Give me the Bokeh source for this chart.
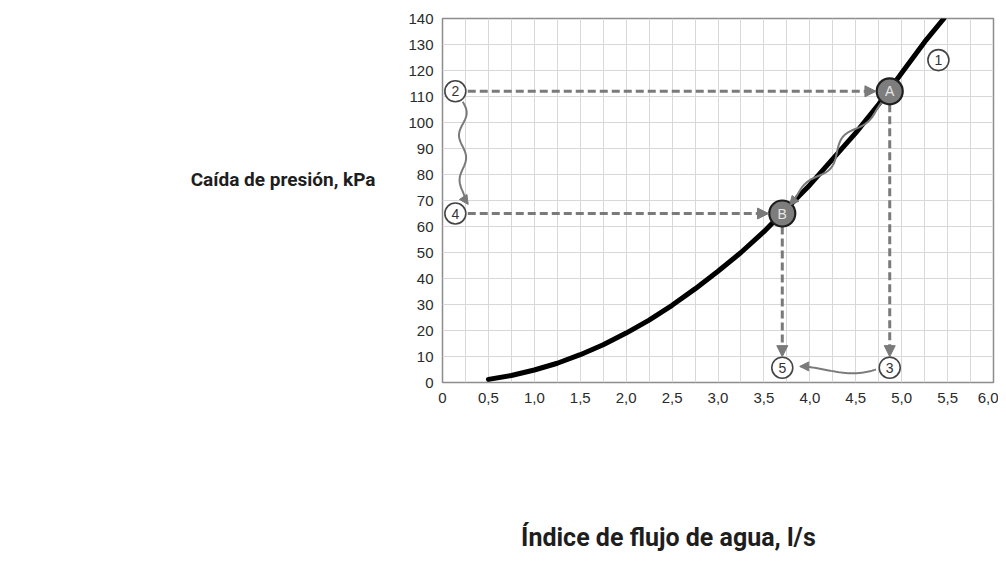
import numpy as np
from bokeh.plotting import figure
from bokeh.models import (Range1d, FixedTicker, LinearAxis, Arrow, NormalHead,
                          ColumnDataSource)
from bokeh.core.properties import value
from bokeh.embed import file_html
from bokeh.resources import INLINE

# ---- data ----
flow = [0.5, 0.75, 1.0, 1.25, 1.5, 1.75, 2.0, 2.25, 2.5, 2.75, 3.0, 3.25, 3.5,
        3.75, 4.0, 4.25, 4.5, 4.75, 5.0, 5.25, 5.46]
pressure = [1.2, 2.7, 4.8, 7.4, 10.7, 14.5, 19, 24, 29.7, 36, 42.8, 50, 58,
            67, 76, 86, 96, 107, 119, 131, 140]

x_ticks = [0, 0.5, 1.0, 1.5, 2.0, 2.5, 3.0, 3.5, 4.0, 4.5, 5.0, 5.5, 6.0]
x_tick_labels = ["0", "0,5", "1,0", "1,5", "2,0", "2,5", "3,0", "3,5", "4,0",
                 "4,5", "5,0", "5,5", "6,0"]
y_ticks = list(range(0, 141, 10))

# operating points
pt_names = ["A", "B"]
pt_x = [4.87, 3.70]
pt_y = [112, 65]

# numbered callouts
num_names = ["1", "2", "3", "4", "5"]
num_x = [5.40, 0.14, 4.87, 0.14, 3.70]
num_y = [124, 112, 5.7, 65, 5.7]

title_y = "Caída de presión, kPa"
title_x = "Índice de flujo de agua, l/s"
title_y_at = 77.9   # data y where the y title sits
title_x_at = 2.46   # data x where the x title is centred

GREY = "#7a7a7a"
TITLE_FONT = "Roboto"

p = figure(width=998, height=554, x_range=Range1d(0, 6), y_range=Range1d(0, 140),
           output_backend="svg", toolbar_location=None,
           min_border_left=442, min_border_right=5, min_border_top=18,
           min_border_bottom=171)
p.outline_line_color = "#8c8c8c"
p.outline_line_width = 1.5
p.background_fill_color = "white"

p.xaxis.ticker = FixedTicker(ticks=x_ticks)
p.xaxis.major_label_overrides = {t: l for t, l in zip(x_ticks, x_tick_labels)}
p.yaxis.ticker = FixedTicker(ticks=y_ticks)
for ax in (p.xaxis, p.yaxis):
    ax.axis_line_color = None
    ax.major_tick_line_color = None
    ax.minor_tick_line_color = None
    ax.major_tick_in = 0
    ax.major_tick_out = 0
    ax.major_label_text_font = "Liberation Sans"
    ax.major_label_text_font_size = "15px"
    ax.major_label_text_color = "#2a2a2a"
p.yaxis.major_label_standoff = 9
p.xaxis.major_label_standoff = 10

p.xgrid.ticker = FixedTicker(ticks=list(np.arange(0, 6.001, 0.25)))
p.ygrid.ticker = FixedTicker(ticks=y_ticks)
p.xgrid.grid_line_color = "#d8d8d8"
p.ygrid.grid_line_color = "#d8d8d8"
p.xgrid.grid_line_width = 1
p.ygrid.grid_line_width = 1

# axis titles as single-tick extra axes (not clipped, positioned in data units)
def title_axis(text, at, standoff, size):
    a = LinearAxis(ticker=FixedTicker(ticks=[at]),
                   major_label_overrides={at: text})
    a.axis_line_color = None
    a.major_tick_line_color = None
    a.minor_tick_line_color = None
    a.major_tick_in = 0
    a.major_tick_out = 0
    a.major_label_standoff = standoff
    a.major_label_text_font = TITLE_FONT
    a.major_label_text_font_style = "bold"
    a.major_label_text_font_size = size
    a.major_label_text_color = "#1e1e1e"
    return a

p.add_layout(title_axis(title_y, title_y_at, 30, "19px"), "left")
p.add_layout(title_axis(title_x, title_x_at, 117, "25px"), "below")

# main curve
p.line(flow, pressure, line_color="black", line_width=5, line_cap="round")

# dashed guide arrows
def dashed_arrow(x0, y0, x1, y1):
    p.line([x0, x1], [y0, y1], line_color=GREY, line_width=3, line_dash="8 4")
    p.add_layout(Arrow(end=NormalHead(size=11, fill_color=GREY, line_color=GREY),
                       x_start=x0 + (x1 - x0) * 0.98, y_start=y0 + (y1 - y0) * 0.98,
                       x_end=x1, y_end=y1, line_alpha=0))

r_x = 0.15   # circle radius in x data units (approx)
r_y = 5.0    # circle radius in y data units (approx)
dashed_arrow(num_x[1] + r_x * 0.9, num_y[1], pt_x[0] - r_x, pt_y[0])
dashed_arrow(pt_x[0], pt_y[0] - r_y, num_x[2], num_y[2] + r_y * 0.85)
dashed_arrow(num_x[3] + r_x * 0.9, num_y[3], pt_x[1] - r_x, pt_y[1])
dashed_arrow(pt_x[1], pt_y[1] - r_y, num_x[4], num_y[4] + r_y * 0.85)

# wavy arrow 2 -> 4
t = np.linspace(0, 1, 60)
wx = 0.22 + 0.045 * np.sin(t * 2 * np.pi * 2.2) * (1 - 0.3 * t)
wy = 108 - t * 38
p.line(wx, wy, line_color=GREY, line_width=2)
p.add_layout(Arrow(end=NormalHead(size=9, fill_color=GREY, line_color=GREY),
                   x_start=wx[-1] - 0.01, y_start=wy[-1] + 0.6,
                   x_end=wx[-1] + 0.03, y_end=wy[-1] - 1.5, line_alpha=0))

# wavy arrow A -> B along the curve
ax0, ay0 = pt_x[0] - 0.08, pt_y[0] - 4
ax1, ay1 = pt_x[1] + 0.1, pt_y[1] + 4
dx, dy = ax1 - ax0, ay1 - ay0
off = 0.05 * np.sin(t * 2 * np.pi * 2.0) * np.sin(np.pi * t)
bx = ax0 + dx * t + off * 1.0
by = ay0 + dy * t - off * 35.0
p.line(bx, by, line_color=GREY, line_width=2)
p.add_layout(Arrow(end=NormalHead(size=9, fill_color=GREY, line_color=GREY),
                   x_start=bx[-2], y_start=by[-2], x_end=bx[-1] - 0.02, y_end=by[-1] - 0.8,
                   line_alpha=0))

# curved arrow 3 -> 5
cx = num_x[2] - r_x - t * (num_x[2] - num_x[4] - 2 * r_x - 0.05)
cy = 5.0 - 1.6 * np.sin(np.pi * t) * (1 - t) * 2 + 1.2 * t
p.line(cx, cy, line_color=GREY, line_width=2)
p.add_layout(Arrow(end=NormalHead(size=9, fill_color=GREY, line_color=GREY),
                   x_start=cx[-1] + 0.05, y_start=cy[-1], x_end=cx[-1] - 0.01, y_end=cy[-1],
                   line_alpha=0))

# numbered circles
src_n = ColumnDataSource(dict(x=num_x, y=num_y, t=num_names))
p.scatter("x", "y", source=src_n, size=21, fill_color="white", line_color="#444444",
          line_width=1.6)
p.text("x", "y", text="t", source=src_n, text_align="center", text_baseline="middle",
       text_font=value("Liberation Sans"), text_font_size="14px", text_color="#333333")

# operating points A, B
src_p = ColumnDataSource(dict(x=pt_x, y=pt_y, t=pt_names))
p.scatter("x", "y", source=src_p, size=26, fill_color="#7d7d7d", line_color="#1e1e1e",
          line_width=2.2)
p.text("x", "y", text="t", source=src_p, text_align="center", text_baseline="middle",
       text_font=value("Liberation Sans"), text_font_size="14px", text_color="#e6e6e6")

open("out.html", "w").write(file_html(p, INLINE))
